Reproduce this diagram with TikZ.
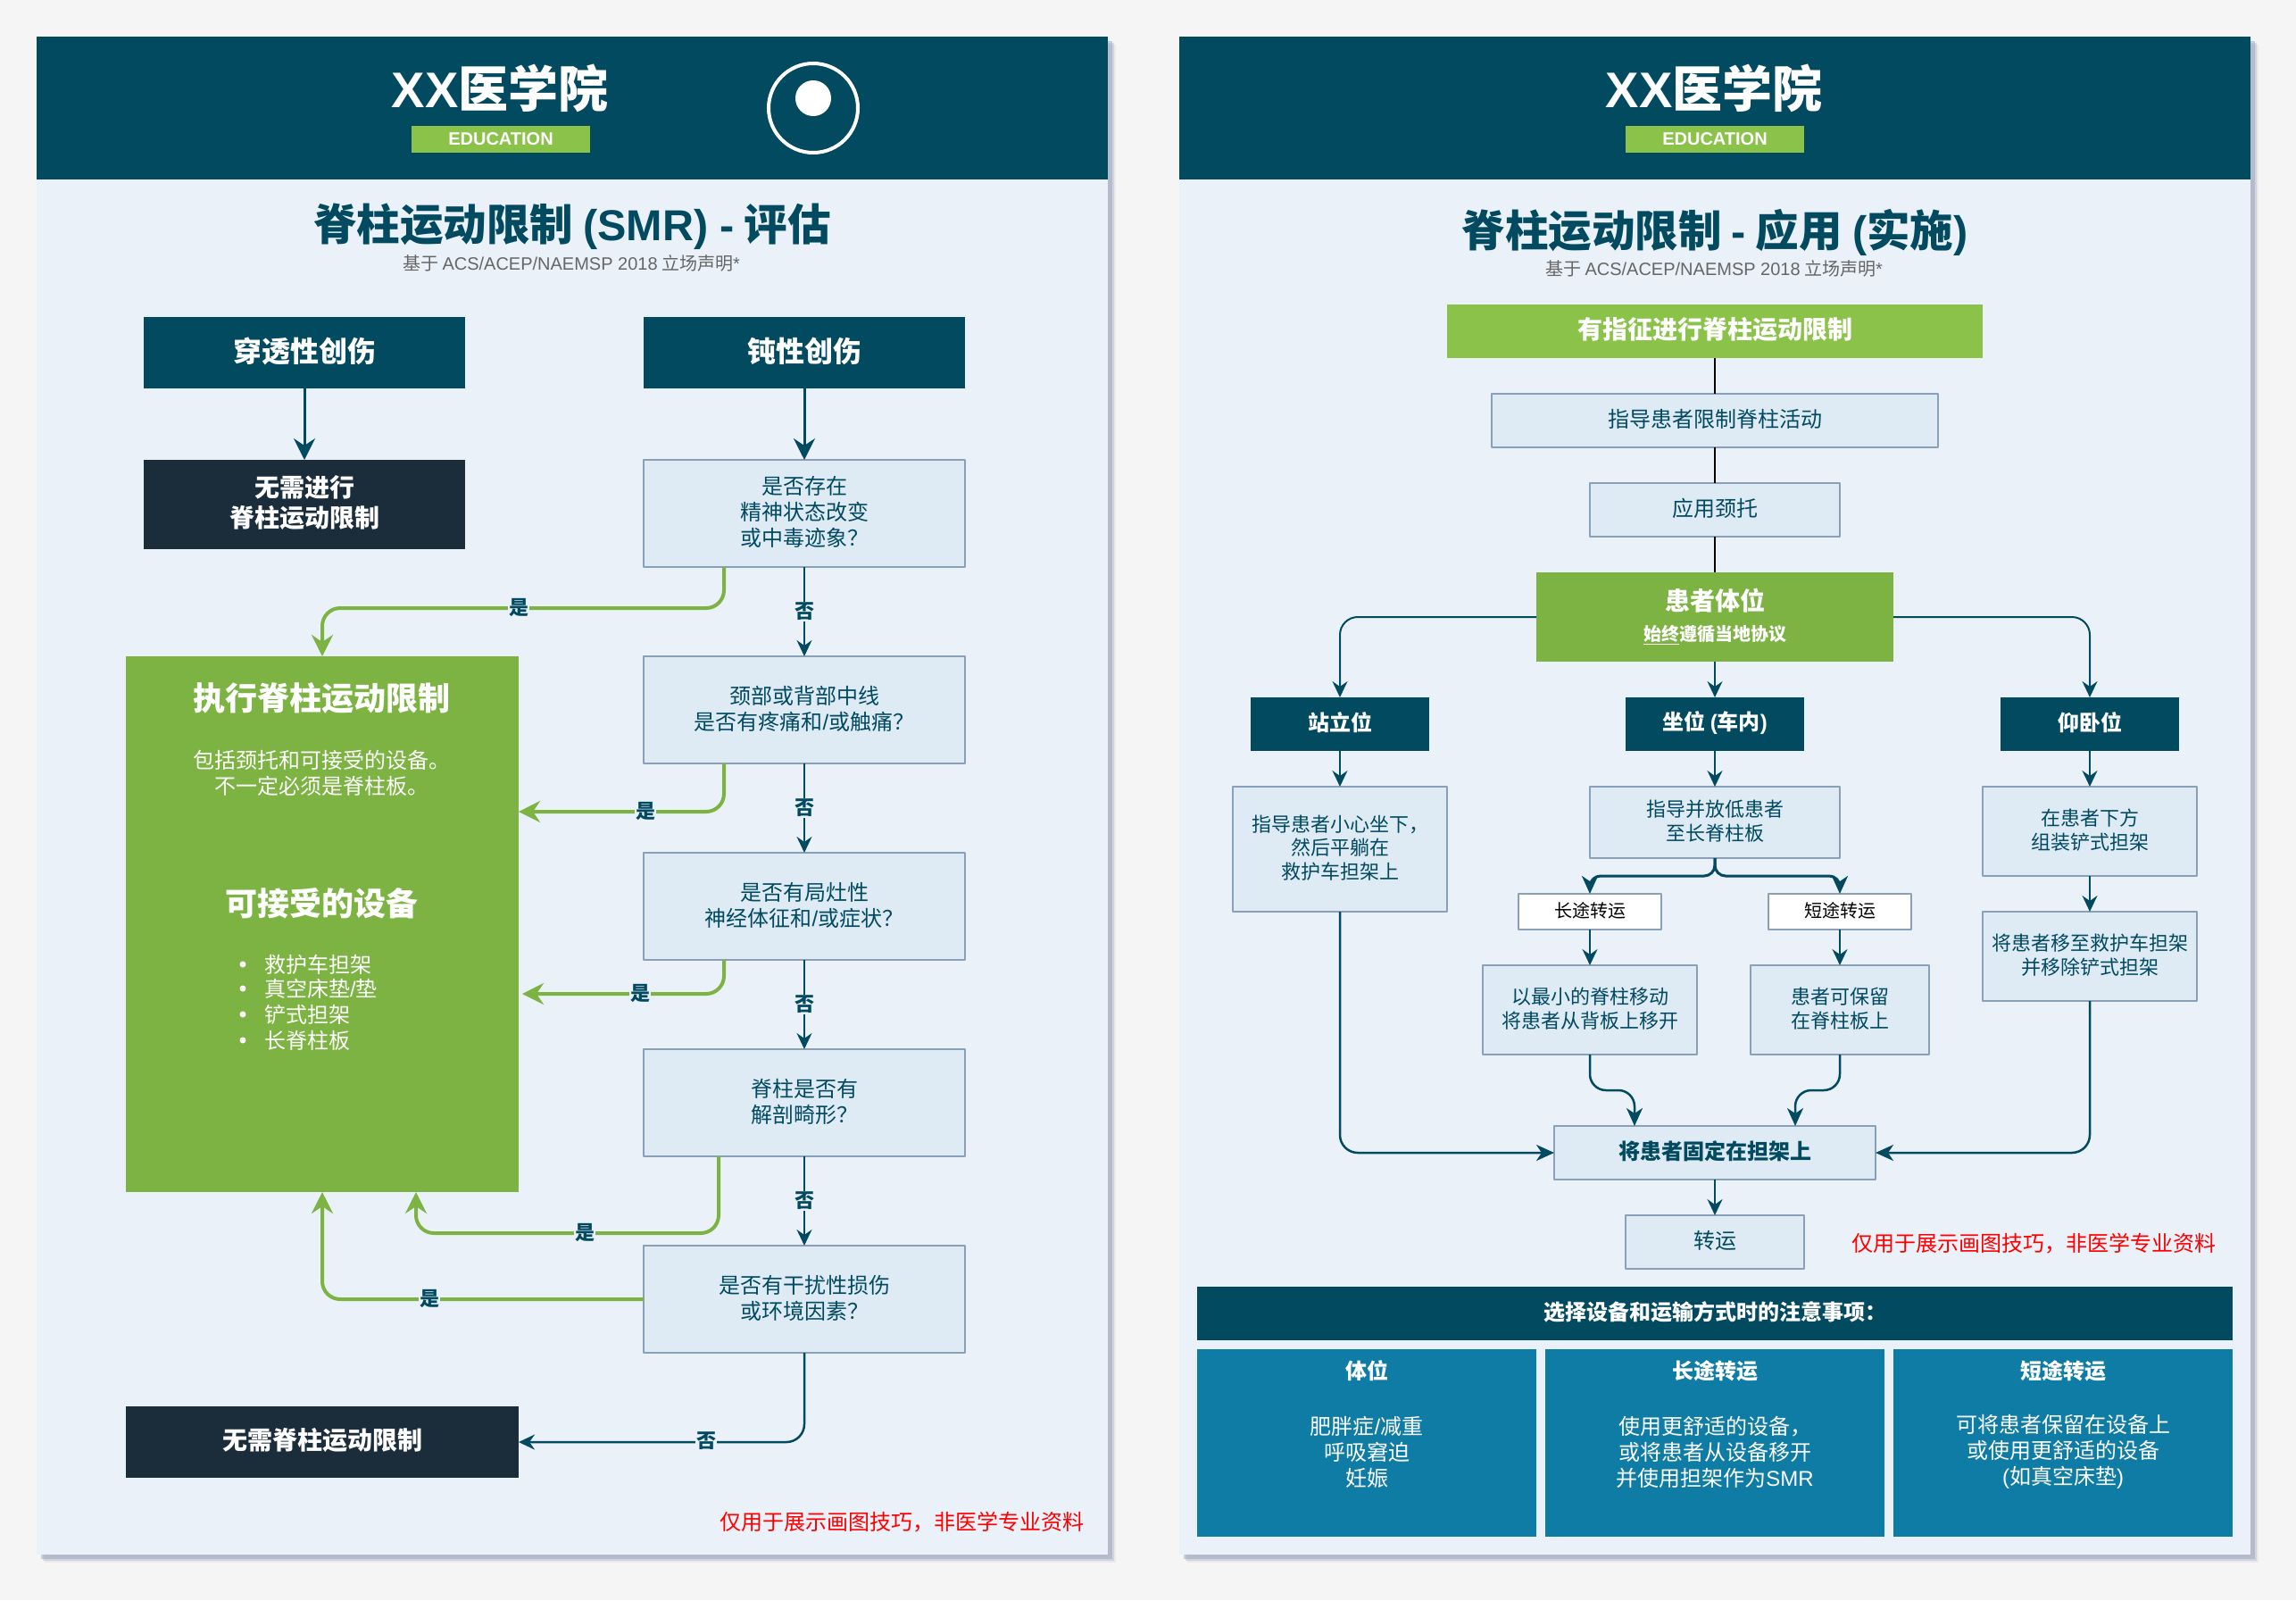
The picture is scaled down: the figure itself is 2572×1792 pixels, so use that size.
\documentclass[tikz,border=0pt]{standalone}
\usepackage{fontspec}
\usetikzlibrary{calc,arrows.meta}
\setmainfont{Noto Sans CJK SC}
\newfontfamily\latinfont{Liberation Sans}
\newcommand{\la}[1]{{\latinfont #1}}
\newcommand{\fsz}[1]{\fontsize{#1}{#1}\selectfont}
\definecolor{PageGray}{HTML}{F5F5F5}
\definecolor{PanelBlue}{HTML}{EAF1F8}
\definecolor{ShadeBlue}{HTML}{8E95B4}
\definecolor{HeadTeal}{HTML}{014A60}
\definecolor{NightNavy}{HTML}{1B2C3B}
\definecolor{LimeBadge}{HTML}{8BC34A}
\definecolor{GrassGreen}{HTML}{7CB342}
\definecolor{StepFill}{HTML}{DEEAF4}
\definecolor{StepEdge}{HTML}{8AA0B8}
\definecolor{OceanBlue}{HTML}{0E7CA5}
\definecolor{SubGray}{HTML}{666666}

\tikzset{
  nudge/.style={execute at begin node={\setbox0=\hbox\bgroup}, execute at end node={\egroup\dp0=\dimexpr\dp0+#1\relax\box0 }},
  plainbox/.style={inner sep=0pt, outer sep=0pt, align=center},
  tealbox/.style={plainbox, nudge=3pt, fill=HeadTeal, text=white, font=\bfseries\fontsize{24}{29}\selectfont},
  navybox/.style={plainbox, nudge=3pt, fill=NightNavy, text=white, font=\bfseries\fontsize{28}{34}\selectfont},
  stepbox/.style={plainbox, nudge=3pt, fill=StepFill, draw=StepEdge, line width=2.5pt, text=HeadTeal, font=\fontsize{24}{29}\selectfont},
  smallstep/.style={stepbox, font=\fontsize{22}{26.5}\selectfont},
  routebox/.style={stepbox, fill=white, text=black, font=\fontsize{20}{24}\selectfont},
  limebox/.style={plainbox, nudge=3pt, fill=LimeBadge, text=white, font=\bfseries\fontsize{28}{34}\selectfont},
  badgebox/.style={plainbox, fill=LimeBadge, text=white, minimum width=200pt, minimum height=30pt, font=\bfseries\fsz{20}},
  oceanbox/.style={plainbox, fill=OceanBlue, text=white, minimum width=380pt, minimum height=210pt},
  whitetext/.style={plainbox, text=white},
  notetext/.style={plainbox, text=red, font=\fontsize{24}{29}\selectfont},
  edgetag/.style={plainbox, fill=PanelBlue, text=HeadTeal, inner sep=1pt, font=\bfseries\fontsize{22}{24}\selectfont},
  bigline/.style={draw=HeadTeal, line width=3pt, -{Stealth[length=24pt,width=24pt,inset=8pt]}},
  thinline/.style={draw=HeadTeal, line width=2pt, rounded corners=20pt, -{Stealth[length=18pt,width=17pt,inset=6pt]}},
  forkline/.style={draw=HeadTeal, line width=2.5pt, rounded corners=12pt, -{Stealth[length=20pt,width=18pt,inset=6pt]}},
  greenline/.style={draw=GrassGreen, line width=4pt, rounded corners=20pt, -{Stealth[length=24pt,width=24pt,inset=8pt]}},
  blackline/.style={draw=black, line width=2pt}
}

\begin{document}
\begin{tikzpicture}[
  x=1pt, y=-1pt,
  line cap=butt, line join=round,
  >=Stealth
]

% === Page and the two panels ===
\fill[PageGray] (0,0) rectangle (2572,1792);
\foreach \xl/\xr in {41/1241,1321/2521} {
  \foreach \d/\o in {9/0.12,7/0.25,5/0.4} {
    \fill[ShadeBlue, opacity=\o] (\xl+\d,41+\d) rectangle (\xr+\d,1741+\d);
  }
  \fill[PanelBlue] (\xl,41) rectangle (\xr,1741);
  \fill[HeadTeal] (\xl,41) rectangle (\xr,201);
}

% === Left header ===
\node[whitetext, font=\bfseries\fsz{56}] (schoolL) at (560,99) {\la{XX}医学院};
\node[badgebox, text depth=0pt, text height=13pt] (badgeL) at (561,156) {\la{EDUCATION}};
\draw[white, line width=4pt] (911,121) circle (50pt);
\fill[white] (911,110) circle (20pt);
\node[plainbox, text=HeadTeal, font=\bfseries\fsz{48.5}] (titleL) at (641,254) {脊柱运动限制 \la{(SMR) -} 评估};
\node[plainbox, text=SubGray, font=\fsz{20}] (subL) at (640,295) {基于 \la{ACS/ACEP/NAEMSP 2018} 立场声明\la{*}};

% === Left flow: start boxes ===
\node[tealbox, minimum width=360pt, minimum height=80pt, font=\bfseries\fsz{32}] (penetrating) at (341,395) {穿透性创伤};
\node[tealbox, minimum width=360pt, minimum height=80pt, font=\bfseries\fsz{32}] (blunt) at (901,395) {钝性创伤};
\node[navybox, minimum width=360pt, minimum height=100pt] (nosmrtop) at (341,565) {无需进行\\脊柱运动限制};

% === Left flow: questions ===
\foreach \name/\y/\txt in {
  qmental/575/{是否存在\\精神状态改变\\或中毒迹象？},
  qpain/795/{颈部或背部中线\\是否有疼痛和\la{/}或触痛？},
  qneuro/1015/{是否有局灶性\\神经体征和\la{/}或症状？},
  qdeform/1235/{脊柱是否有\\解剖畸形？},
  qdistract/1455/{是否有干扰性损伤\\或环境因素？}%
}{
  \node[stepbox, minimum width=360pt, minimum height=120pt] (\name) at (901,\y) {\txt};
}

% === Left flow: big green box and its texts ===
\node[plainbox, fill=GrassGreen, minimum width=440pt, minimum height=600pt] (smr) at (361,1035) {};
\node[whitetext, font=\bfseries\fsz{36}] (smrhead) at (360,782) {执行脊柱运动限制};
\node[whitetext, font=\fontsize{24}{29}\selectfont] (smrtext) at (360,866) {包括颈托和可接受的设备。\\不一定必须是脊柱板。};
\node[whitetext, font=\bfseries\fsz{36}] (kithead) at (360,1012) {可接受的设备};
\foreach \name/\y/\txt in {
  kita/1080/救护车担架,
  kitb/1107/真空床垫\la{/}垫,
  kitc/1136/铲式担架,
  kitd/1165/长脊柱板%
}{
  \fill[white] (272,\y) circle (3.5pt);
  \node[whitetext, anchor=west, font=\fsz{24}] (\name) at (296,\y) {\txt};
}
\node[navybox, minimum width=440pt, minimum height=80pt] (nosmrend) at (361,1615) {无需脊柱运动限制};
\node[notetext] (noteL) at (1010,1705) {仅用于展示画图技巧，非医学专业资料};

% === Left flow: connectors ===
\draw[bigline] (penetrating) -- (nosmrtop);
\draw[bigline] (blunt) -- (qmental);
\draw[thinline] (qmental) -- (qpain);
\draw[thinline] (qpain) -- (qneuro);
\draw[thinline] (qneuro) -- (qdeform);
\draw[thinline] (qdeform) -- (qdistract);
\draw[thinline, line width=2.5pt] (qdistract.south) |- (nosmrend.east);
\draw[greenline] ([xshift=-90pt]qmental.south) -- ++(0,46) -| (smr.north);
\draw[greenline] ([xshift=-90pt]qpain.south) |- ([yshift=126pt]smr.east);
\draw[greenline] ([xshift=-90pt]qneuro.south) |- ([xshift=4pt,yshift=-78pt]smr.east);
\draw[greenline] ([xshift=-96pt]qdeform.south) -- ++(0,86) -| ([xshift=105pt]smr.south);
\draw[greenline] (qdistract.west) -| (smr.south);

% === Left flow: tags on the connectors ===
\foreach \name/\x/\y/\txt in {
  tagn1/901/685/否, tagn2/901/905/否, tagn3/901/1125/否, tagn4/901/1345/否,
  tagn5/791/1614/否, tagy1/581/680/是, tagy2/723/908/是, tagy3/717/1112/是,
  tagy4/655/1380/是, tagy5/481/1454/是%
}{
  \node[edgetag] (\name) at (\x,\y) {\txt};
}

% === Right header ===
\node[whitetext, font=\bfseries\fsz{56}] (schoolR) at (1920,99) {\la{XX}医学院};
\node[badgebox, text depth=0pt, text height=13pt] (badgeR) at (1921,156) {\la{EDUCATION}};
\node[plainbox, text=HeadTeal, font=\bfseries\fsz{48.5}] (titleR) at (1921,260) {脊柱运动限制 \la{-} 应用 \la{(}实施\la{)}};
\node[plainbox, text=SubGray, font=\fsz{20}] (subR) at (1920,301) {基于 \la{ACS/ACEP/NAEMSP 2018} 立场声明\la{*}};

% === Right flow: top chain ===
\node[limebox, minimum width=600pt, minimum height=60pt] (indicated) at (1921,371) {有指征进行脊柱运动限制};
\node[stepbox, minimum width=500pt, minimum height=60pt] (instruct) at (1921,471) {指导患者限制脊柱活动};
\node[stepbox, minimum width=280pt, minimum height=60pt] (collar) at (1921,571) {应用颈托};
\node[plainbox, fill=GrassGreen, minimum width=400pt, minimum height=100pt] (position) at (1921,691) {};
\node[whitetext, font=\bfseries\fsz{28}] (poshead) at (1921,673) {患者体位};
\node[whitetext, font=\bfseries\fsz{20}] (posnote) at (1921,711) {\underline{始终}遵循当地协议};

% === Right flow: three positions ===
\foreach \name/\x/\txt in {
  standing/1501/站立位,
  seated/1921/{坐位 \la{(}车内\la{)}},
  supine/2341/仰卧位%
}{
  \node[tealbox, minimum width=200pt, minimum height=60pt] (\name) at (\x,811) {\txt};
}

% === Right flow: steps ===
\node[smallstep, minimum width=240pt, minimum height=140pt] (sitdown) at (1501,951) {指导患者小心坐下，\\然后平躺在\\救护车担架上};
\node[smallstep, minimum width=280pt, minimum height=80pt] (lower) at (1921,921) {指导并放低患者\\至长脊柱板};
\node[smallstep, minimum width=240pt, minimum height=100pt] (assemble) at (2341,931) {在患者下方\\组装铲式担架};
\node[smallstep, minimum width=240pt, minimum height=100pt] (transfer) at (2341,1071) {将患者移至救护车担架\\并移除铲式担架};
\node[routebox, minimum width=160pt, minimum height=40pt] (longtrip) at (1781,1021) {长途转运};
\node[routebox, minimum width=160pt, minimum height=40pt] (shorttrip) at (2061,1021) {短途转运};
\node[smallstep, minimum width=240pt, minimum height=100pt] (minimal) at (1781,1131) {以最小的脊柱移动\\将患者从背板上移开};
\node[smallstep, minimum width=200pt, minimum height=100pt] (keepboard) at (2061,1131) {患者可保留\\在脊柱板上};
\node[stepbox, minimum width=360pt, minimum height=60pt, font=\bfseries\fsz{24}] (secure) at (1921,1291) {将患者固定在担架上};
\node[stepbox, minimum width=200pt, minimum height=60pt] (transport) at (1921,1391) {转运};
\node[notetext] (noteR) at (2278,1393) {仅用于展示画图技巧，非医学专业资料};

% === Right flow: connectors ===
\draw[blackline] (indicated) -- (instruct);
\draw[blackline] (instruct) -- (collar);
\draw[blackline] (collar) -- (position);
\draw[thinline] (position.west) -| (standing.north);
\draw[thinline] (position) -- (seated);
\draw[thinline] (position.east) -| (supine.north);
\draw[thinline] (standing) -- (sitdown);
\draw[thinline] (seated) -- (lower);
\draw[thinline] (supine) -- (assemble);
\draw[thinline] (assemble) -- (transfer);
\draw[forkline, line width=3pt] (lower.south) -- ++(0,20) -| (longtrip.north);
\draw[forkline, line width=3pt] (lower.south) -- ++(0,20) -| (shorttrip.north);
\draw[thinline] (longtrip) -- (minimal);
\draw[thinline] (shorttrip) -- (keepboard);
\draw[forkline, rounded corners=18pt] (minimal.south) -- ++(0,40) -| ([xshift=-90pt]secure.north);
\draw[forkline, rounded corners=18pt] (keepboard.south) -- ++(0,40) -| ([xshift=90pt]secure.north);
\draw[forkline, rounded corners=20pt] (sitdown.south) |- (secure.west);
\draw[forkline, rounded corners=20pt] (transfer.south) |- (secure.east);
\draw[thinline] (secure) -- (transport);

% === Right footer table ===
\node[tealbox, minimum width=1160pt, minimum height=60pt] (notebar) at (1921,1471) {选择设备和运输方式时的注意事项：};
\foreach \name/\x/\head/\txt in {
  colpos/1531/体位/{肥胖症\la{/}减重\\呼吸窘迫\\妊娠},
  collong/1921/长途转运/{使用更舒适的设备，\\或将患者从设备移开\\并使用担架作为\la{SMR}},
  colshort/2311/短途转运/{可将患者保留在设备上\\或使用更舒适的设备\\\la{(}如真空床垫\la{)}}%
}{
  \node[oceanbox] (\name) at (\x,1616) {};
  \node[whitetext, font=\bfseries\fsz{24}] (\name head) at (\x,1535) {\head};
  \node[whitetext, font=\fontsize{24}{29}\selectfont] (\name text) at (\x,1626) {\txt};
}

\end{tikzpicture}
\end{document}
